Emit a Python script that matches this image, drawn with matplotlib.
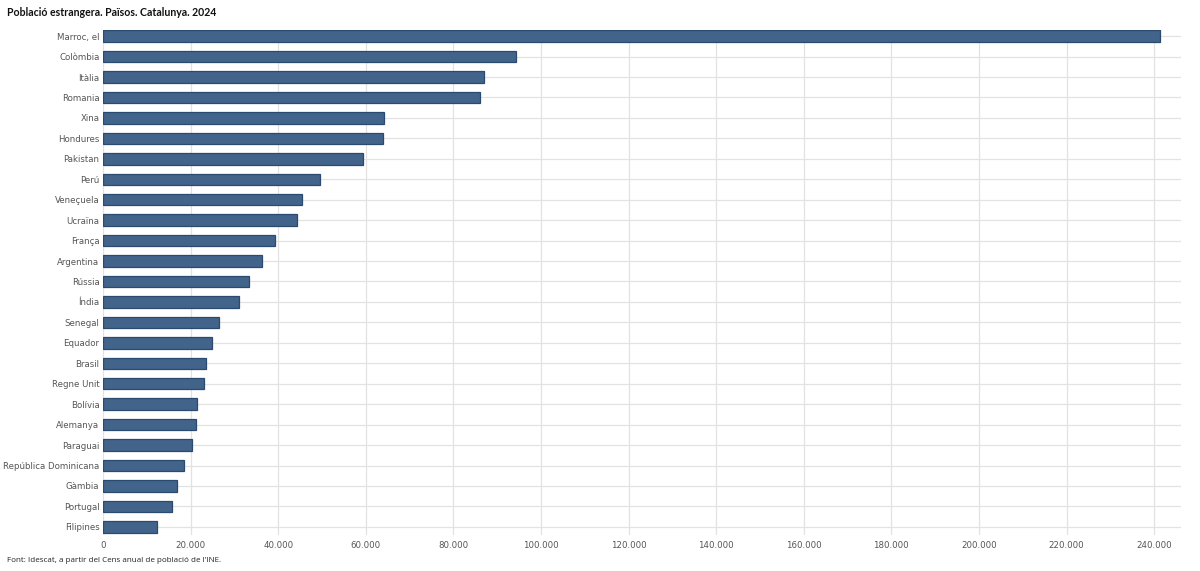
import matplotlib.pyplot as plt
from matplotlib.ticker import FuncFormatter

# Data
paisos = ['Marroc, el', 'Colòmbia', 'Itàlia', 'Romania', 'Xina', 'Hondures',
          'Pakistan', 'Perú', 'Veneçuela', 'Ucraïna', 'França', 'Argentina',
          'Rússia', 'Índia', 'Senegal', 'Equador', 'Brasil', 'Regne Unit',
          'Bolívia', 'Alemanya', 'Paraguai', 'República Dominicana', 'Gàmbia',
          'Portugal', 'Filipines']
poblacio = [241400, 94300, 87000, 86100, 64100, 64000,
            59300, 49500, 45500, 44200, 39200, 36400,
            33400, 31100, 26400, 25000, 23500, 23000,
            21400, 21200, 20400, 18500, 16800,
            15800, 12400]
xticks = list(range(0, 240001, 20000))

titol = 'Població estrangera. Països. Catalunya. 2024'
font_txt = "Font: Idescat, a partir del Cens anual de població de l'INE."

fig = plt.figure(figsize=(12, 5.71), dpi=100)
ax = fig.add_axes([0.0858, 0.063, 0.8984, 0.8845])

ypos = list(range(len(paisos)))
ax.barh(ypos, poblacio, height=0.56, color='#42648a', edgecolor='#2a4a70',
        linewidth=0.9, zorder=3)

ax.set_yticks(ypos)
ax.set_yticklabels(paisos)
ax.set_ylim(len(paisos) - 0.6, -0.3)
ax.set_xlim(0, 246150)
ax.set_xticks(xticks)
ax.xaxis.set_major_formatter(FuncFormatter(lambda v, p: f'{int(v):,}'.replace(',', '.')))

ax.grid(True, axis='both', color='#e2e2e2', linewidth=0.9, zorder=0)
ax.set_axisbelow(True)
for s in ax.spines.values():
    s.set_visible(False)
ax.tick_params(axis='y', length=0, labelsize=6.2, labelcolor='#555555', pad=2.5)
ax.tick_params(axis='x', length=0, labelsize=6.2, labelcolor='#555555', pad=4)

fig.text(7 / 1200, 1 - 13 / 571, titol, fontsize=7.6, fontweight='bold',
         family='Lato', color='#111111', va='center', ha='left')
fig.text(7 / 1200, 1 - 560 / 571, font_txt, fontsize=5.8, family='Open Sans',
         color='#222222', va='center', ha='left')

fig.savefig('out.png', dpi=100)
